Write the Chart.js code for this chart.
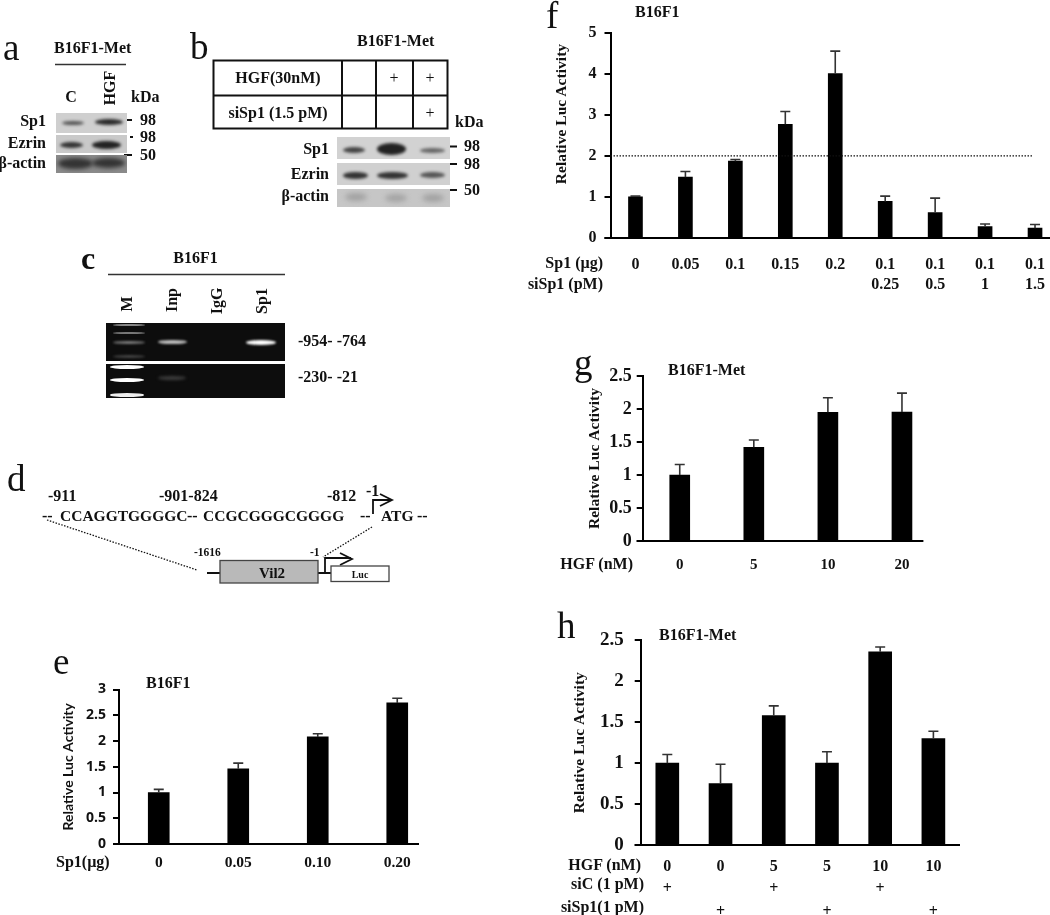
<!DOCTYPE html>
<html><head><meta charset="utf-8">
<script src="https://cdn.jsdelivr.net/npm/chart.js@4"></script>
<style>
html,body{margin:0;padding:0;width:1050px;height:915px;overflow:hidden;background:#fff}
#page{position:absolute;left:0;top:0;width:1050px;height:915px;overflow:hidden;filter:blur(.35px)}
canvas{position:absolute}
svg{position:absolute;left:0;top:0}
.t{position:absolute;white-space:nowrap;line-height:1;color:#111;font:bold 16px "Liberation Serif",serif}
.blot{position:absolute;overflow:hidden}
.band{position:absolute;border-radius:50%}
</style></head><body><div id="page">
<svg width="1050" height="915" fill="none" stroke="#111">
  <!-- a, b, c rules -->
  <path d="M55 64.5H126M108 274.5H285" stroke="#333" stroke-width="1.6"/>
  <path d="M126 120h6M130 137h3M124 155h8M450 146.500h7M450 164h7M450 190h7" stroke-width="2"/>
  <rect x="213.500" y="60.500" width="234" height="68" stroke-width="2"/>
  <path d="M213 95.500H448M342 60V128M376 60V128M413 60V128" stroke-width="2"/>
  <!-- d construct -->
  <path d="M47 520L197 570M372 527L323 557" stroke-width="1.3" stroke-dasharray="1.500 1.500"/>
  <path d="M373 514V500H391M380 494L392 500L380 506" stroke-width="1.800"/>
  <path d="M207 573H220M318 573H331M325 573V558H351M340 553L352 559L340 565" stroke-width="1.800"/>
  <rect x="220" y="560.500" width="98" height="22.500" fill="#b9b9b9" stroke="#444" stroke-width="1.300"/>
  <rect x="331" y="566" width="58" height="15.500" fill="#fff" stroke="#444" stroke-width="1.300"/>
</svg>
<canvas id="cE"></canvas><canvas id="cF"></canvas><canvas id="cG"></canvas><canvas id="cH"></canvas>
</div>
<script>
// chart values
const eLabels=['0','0.05','0.10','0.20'];
const eVals=[1.0,1.46,2.08,2.74];
const eTops=[1.06,1.57,2.14,2.83];
const eTicks=['0','0.5','1','1.5','2','2.5','3'];

const fSp1=['0','0.05','0.1','0.15','0.2','0.1','0.1','0.1','0.1'];
const fSi=[' ',' ',' ',' ',' ','0.25','0.5','1','1.5'];
const fVals=[1.0,1.48,1.87,2.77,4.0,0.89,0.62,0.28,0.24];
const fTops=[1.02,1.62,1.91,3.08,4.55,1.02,0.97,0.34,0.33];
const fTicks=['0','1','2','3','4','5'];
const fRef=2;

const gLabels=['0','5','10','20'];
const gVals=[1.0,1.42,1.95,1.955];
const gTops=[1.16,1.53,2.17,2.24];
const gTicks=['0','0.5','1','1.5','2','2.5'];

const hHgf=['0','0','5','5','10','10'];
const hSiC=['+',' ','+',' ','+',' '];
const hSiSp1=[' ','+',' ','+',' ','+'];
const hVals=[1.0,0.75,1.58,1.0,2.36,1.30];
const hTops=[1.106,0.987,1.70,1.14,2.42,1.39];
const hTicks=['0','0.5','1','1.5','2','2.5'];

const page=document.getElementById('page');
const SERIF='"Liberation Serif",serif';

// text helper: x,y is the vertical middle, mode l/r/c/v (v = rotated, centred)
function txt(x,y,s,o={}){
  const d=document.createElement('div'); d.className='t'; d.textContent=s;
  d.style.left=x+'px'; d.style.top=y+'px'; d.style.fontSize=(o.size||16)+'px';
  if(o.weight) d.style.fontWeight=o.weight;
  if(o.font) d.style.fontFamily=o.font;
  const m=o.mode||'l';
  d.style.transform={l:'translateY(-50%)',r:'translate(-100%,-50%)',c:'translate(-50%,-50%)',v:'translate(-50%,-50%) rotate(-90deg)'}[m];
  page.appendChild(d); return d;
}
function blot(x,y,w,h,bg,bands){
  const b=document.createElement('div'); b.className='blot';
  Object.assign(b.style,{left:x+'px',top:y+'px',width:w+'px',height:h+'px',background:bg});
  bands.forEach(([bx,by,bw,bh,col,blur])=>{
    const s=document.createElement('div'); s.className='band';
    Object.assign(s.style,{left:(bx-x)+'px',top:(by-y-bh/2)+'px',width:bw+'px',height:bh+'px',background:col,filter:`blur(${blur||1.5}px)`});
    b.appendChild(s);
  });
  page.appendChild(b);
}

// panel letters
[['a',3,47],['b',190,46],['d',7,478],['e',53,661],['f',546,15],['h',557,625]].forEach(([s,x,y])=>txt(x,y,s,{size:37,weight:'normal'}));
txt(574,362,'g',{size:37,weight:'normal'});
txt(81,258,'c',{size:32});

// a
txt(54,48,'B16F1-Met'); txt(71,97,'C',{mode:'c'}); txt(110,88,'HGF',{mode:'v'}); txt(131,97,'kDa');
txt(46,121,'Sp1',{mode:'r'}); txt(46,143,'Ezrin',{mode:'r'}); txt(46,163,'β-actin',{mode:'r'});
txt(140,120,'98'); txt(140,137,'98'); txt(140,155,'50');
blot(56,113,71,20,'#cfcfcf',[[62,123,22,4,'#555'],[95,122,28,6,'#2a2a2a']]);
blot(56,135,71,18,'#c9c9c9',[[60,145,23,6,'#333'],[92,145,29,8,'#222']]);
blot(56,155,71,18,'#8a8a8a',[[58,163,35,11,'#333',2],[92,163,33,10,'#333',2]]);

// b
txt(357,41,'B16F1-Met'); txt(278,78,'HGF(30nM)',{mode:'c'}); txt(278,113,'siSp1 (1.5 pM)',{mode:'c'});
txt(394,78,'+',{mode:'c',weight:'normal'}); txt(430,78,'+',{mode:'c',weight:'normal'}); txt(430,113,'+',{mode:'c',weight:'normal'});
txt(455,122,'kDa');
txt(329,149,'Sp1',{mode:'r'}); txt(329,174,'Ezrin',{mode:'r'}); txt(329,196,'β-actin',{mode:'r'});
txt(464,146,'98'); txt(464,164,'98'); txt(464,190,'50');
blot(337,137,113,22,'#d2d2d2',[[343,150,22,6,'#444'],[377,149,29,12,'#222'],[420,150,25,5,'#666']]);
blot(337,163,113,22,'#d0d0d0',[[343,175,25,7,'#333'],[377,175,31,7,'#333'],[420,175,25,6,'#555']]);
blot(337,189,113,18,'#c6c6c6',[[345,197,22,8,'#a2a2a2',2.5],[385,198,22,8,'#a4a4a4',2.5],[422,198,22,8,'#a2a2a2',2.5]]);

// c
txt(195.5,258,'B16F1',{mode:'c'});
txt(127,304,'M',{mode:'v'}); txt(172,300,'Inp',{mode:'v'}); txt(217,301,'IgG',{mode:'v'}); txt(262,301,'Sp1',{mode:'v'});
txt(298,341,'-954- -764'); txt(298,377,'-230- -21');
blot(106,323,179,38,'#0d0d0d',[[113,325,32,2.5,'#888',.6],[113,333,32,2.5,'#777',.6],[113,342.500,32,3.5,'#777',.8],[113,356,32,3,'#444',.8],[158,342,29,4.5,'#bbb',1],[246,342,30,5,'#fff',1]]);
blot(106,364,179,34,'#0d0d0d',[[110,367,34,4,'#fff',.6],[110,380,34,4,'#fff',.6],[110,395,34,3.5,'#eee',.6],[158,378,28,4,'#3c3c3c',1.5]]);

// d
txt(48,496,'-911'); txt(159,496,'-901-824'); txt(327,496,'-812'); txt(366,491,'-1');
txt(42,516,'--'); txt(60,516,'CCAGGTGGGGC',{size:15.500}); txt(187,516,'--'); txt(203,516,'CCGCGGGCGGGG',{size:15.500}); txt(360,516,'--'); txt(381,516,'ATG',{size:15.500}); txt(417,516,'--');
txt(194,552,'-1616',{size:11.500}); txt(310,552,'-1',{size:11.500}); txt(272,573,'Vil2',{mode:'c',size:15}); txt(360,574,'Luc',{mode:'c',size:10});

// e-h extras
txt(146,683,'B16F1'); txt(56,862,'Sp1(µg)');
txt(635,12,'B16F1'); txt(603,263,'Sp1 (µg)',{mode:'r'}); txt(603,284,'siSp1 (pM)',{mode:'r'});
txt(560.5,114,'Relative Luc Activity',{mode:'v',size:15.600});
txt(668,370,'B16F1-Met'); txt(633,564,'HGF (nM)',{mode:'r'});
txt(659,635,'B16F1-Met'); txt(641,865,'HGF (nM)',{mode:'r'}); txt(644,884,'siC (1 pM)',{mode:'r'}); txt(644,907,'siSp1(1 pM)',{mode:'r'});

// error bars, baseline and reference line, all through the scales
Chart.register({id:'marks',afterDatasetsDraw(c,a,o){
  const {ctx,scales:{x,y}}=c; ctx.save();
  if(o.ref!=null){ ctx.strokeStyle='#111'; ctx.lineWidth=1.3; ctx.setLineDash([1.5,1.5]);
    ctx.beginPath(); ctx.moveTo(y.right,y.getPixelForValue(o.ref)); ctx.lineTo(o.refEnd,y.getPixelForValue(o.ref)); ctx.stroke(); ctx.setLineDash([]); }
  ctx.strokeStyle='#333'; ctx.lineWidth=1.6;
  o.tops.forEach((t,i)=>{ const px=x.getPixelForValue(i), p0=y.getPixelForValue(c.data.datasets[0].data[i]), p1=y.getPixelForValue(t);
    ctx.beginPath(); ctx.moveTo(px,p0); ctx.lineTo(px,p1); ctx.moveTo(px-5,p1); ctx.lineTo(px+5,p1); ctx.stroke(); });
  ctx.strokeStyle='#000'; ctx.lineWidth=2; const by=y.getPixelForValue(0);
  ctx.beginPath(); ctx.moveTo(y.right-6,by); ctx.lineTo(o.end,by); ctx.stroke();
  ctx.restore();
}});

function panel(id,p){
  const cv=document.getElementById(id);
  const w=p.axisX+p.step*p.labels.length-p.left, h=p.axisBot+p.xH-p.top;
  cv.width=w; cv.height=h; cv.style.left=p.left+'px'; cv.style.top=p.top+'px';
  return new Chart(cv,{type:'bar',
    data:{labels:p.labels,datasets:[{data:p.vals,backgroundColor:'#000',barThickness:p.barW}]},
    options:{responsive:false,animation:false,layout:{padding:{top:p.axisTop-p.top}},
      plugins:{legend:{display:false},tooltip:{enabled:false},
        marks:{tops:p.tops,end:p.axisEnd-p.left,ref:p.ref,refEnd:p.refEnd?p.refEnd-p.left:0}},
      scales:{
        x:{border:{display:false},grid:{display:false},
          afterFit:s=>{s.height=p.xH;},
          ticks:{color:'#111',padding:p.xPad,maxRotation:0,autoSkip:false,font:{family:SERIF,weight:'bold',size:p.xSize,lineHeight:p.xLine}}},
        y:{min:0,max:p.max,border:{color:'#000',width:2},
          grid:{drawOnChartArea:false,color:'#000',lineWidth:2,tickLength:6},
          afterFit:s=>{s.width=p.axisX-p.left;},
          title:p.noTitle?{display:false}:{display:true,text:'Relative Luc Activity',color:'#111',padding:0,font:p.titleFont},
          afterBuildTicks:s=>{s.ticks=p.ticks.map(Number).map(v=>({value:v}));},
          ticks:{color:'#111',padding:p.yPad,font:p.yFont,callback:(v,i)=>p.ticks[i]}}
      }}});
}

panel('cE',{left:60,top:670,axisX:119,axisTop:689.5,axisBot:844,axisEnd:419,step:79.5,barW:21,xH:34,xPad:2,xSize:15.5,xLine:1.2,max:3,
  labels:eLabels,vals:eVals,tops:eTops,ticks:eTicks,yPad:7,
  yFont:{family:'"Open Sans",sans-serif',weight:'bold',size:14},titleFont:{family:'Lato,sans-serif',weight:'bold',size:14}});
panel('cF',{left:575,top:15,axisX:610.5,axisTop:30,axisBot:238.7,axisEnd:1060,step:50,barW:14,xH:60,xPad:8,xSize:16,xLine:1.3,max:5,
  labels:fSp1.map((v,i)=>[v,fSi[i]]),vals:fVals,tops:fTops,ticks:fTicks,yPad:8,ref:fRef,refEnd:1032,noTitle:true,
  yFont:{family:SERIF,weight:'bold',size:16}});
panel('cG',{left:585.6,top:360,axisX:642.3,axisTop:376,axisBot:541.3,axisEnd:923,step:74.3,barW:20,xH:36,xPad:7,xSize:15,xLine:1.2,max:2.5,
  labels:gLabels,vals:gVals,tops:gTops,ticks:gTicks,yPad:5,
  yFont:{family:SERIF,weight:'bold',size:18},titleFont:{family:SERIF,weight:'bold',size:15.6}});
panel('cH',{left:570.6,top:618,axisX:640.3,axisTop:634,axisBot:845,axisEnd:961,step:53.3,barW:23,xH:70,xPad:2,xSize:16,xLine:1.42,max:2.5,
  labels:hHgf.map((v,i)=>[v,hSiC[i],hSiSp1[i]]),vals:hVals,tops:hTops,ticks:hTicks,yPad:11,
  yFont:{family:SERIF,weight:'bold',size:19},titleFont:{family:SERIF,weight:'bold',size:15.6}});
</script></body></html>
